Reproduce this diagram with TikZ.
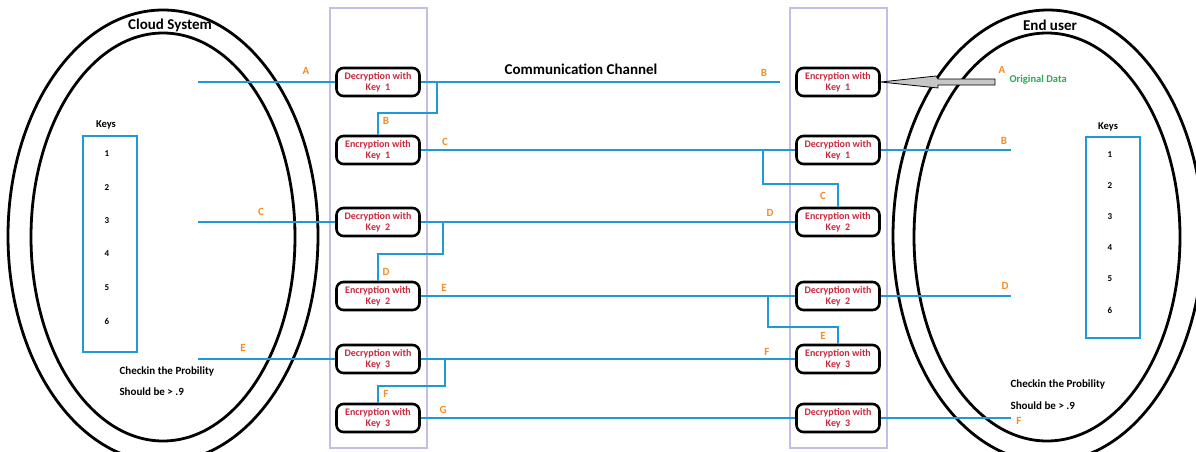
\documentclass[tikz,border=0pt]{standalone}
\usepackage{fontspec}
\setmainfont{Carlito}
\definecolor{boxred}{RGB}{200,40,60}
\definecolor{linkblue}{RGB}{30,155,215}
\definecolor{tagorange}{RGB}{245,140,40}
\definecolor{datagreen}{RGB}{40,170,80}
\definecolor{lanegray}{RGB}{195,190,228}
\begin{document}
\begin{tikzpicture}[x=1pt,y=-1pt,
  keybox/.style={draw=black, line width=2.6pt, rounded corners=7pt, minimum width=83pt,
    minimum height=28pt, inner sep=1pt, align=center, text=boxred,
    font=\bfseries\fontsize{10}{11}\selectfont},
  link/.style={draw=linkblue, line width=1.8pt},
  tag/.style={text=tagorange, font=\bfseries\fontsize{11}{13}\selectfont},
  note/.style={anchor=west, font=\bfseries\fontsize{11}{13}\selectfont},
  num/.style={font=\bfseries\fontsize{9}{11}\selectfont}]
\useasboundingbox (0,0) rectangle (1196,452);
\clip (0,0) rectangle (1196,452);

\draw [line width=2.8pt](163,236) ellipse [x radius=155pt, y radius=226pt]; % cloud system
\draw [line width=2.8pt](163,237) ellipse [x radius=132pt, y radius=204pt];
\node [font=\bfseries\fontsize{15}{17}\selectfont] (cloud) at (170,25) {Cloud System};

\draw [line width=2.8pt](1048,236) ellipse [x radius=155pt, y radius=226pt]; % end user
\draw [line width=2.8pt](1047,237) ellipse [x radius=133pt, y radius=204pt];
\node [font=\bfseries\fontsize{15}{17}\selectfont] (user) at (1050,25) {End user};

\draw [lanegray, line width=2.5pt](330,8) rectangle (427,448); % cloud lane
\draw [lanegray, line width=2.5pt](790,8) rectangle (887,448); % user lane
\node [font=\bfseries\fontsize{15}{17}\selectfont] (channel) at (581,69) {Communication Channel};

% keys
\node [note, anchor=center, font=\bfseries\fontsize{10.5}{12}\selectfont] (ckeys) at (106,125) {Keys};
\draw [link](83,136) rectangle (137,352);
\foreach \k [count=\i] in {154,188,221,254,288,321}
  \node [num] (ck\i) at (107,\k) {\i};
\node [note, anchor=center, font=\bfseries\fontsize{10.5}{12}\selectfont] (ukeys) at (1108,127) {Keys};
\draw [link](1086,137) rectangle (1140,338);
\foreach \k [count=\i] in {155,186,217,248,279,310}
  \node [num] (uk\i) at (1110,\k) {\i};

\node [note] (cprob) at (116,372) {Checkin the Probility};
\node [note] (cgt) at (116,392) {Should be > .9};
\node [note] (uprob) at (1007,385) {Checkin the Probility};
\node [note] (ugt) at (1007,406) {Should be > .9};

% cloud side boxes
\node [keybox] (cd1) at (378,82) {Decryption with\\Key\ \ 1};
\node [keybox] (ce1) at (378,150) {Encryption with\\Key\ \ 1};
\node [keybox] (cd2) at (378,222) {Decryption with\\Key\ \ 2};
\node [keybox] (ce2) at (378,296) {Encryption with\\Key\ \ 2};
\node [keybox] (cd3) at (378,359) {Decryption with\\Key\ \ 3};
\node [keybox] (ce3) at (378,418) {Encryption with\\Key\ \ 3};

% user side boxes
\node [keybox] (ue1) at (838,82) {Encryption with\\Key\ \ 1};
\node [keybox] (ud1) at (838,150) {Decryption with\\Key\ \ 1};
\node [keybox] (ue2) at (838,222) {Encryption with\\Key\ \ 2};
\node [keybox] (ud2) at (838,296) {Decryption with\\Key\ \ 2};
\node [keybox] (ue3) at (838,359) {Encryption with\\Key\ \ 3};
\node [keybox] (ud3) at (838,418) {Decryption with\\Key\ \ 3};

% free ends
\coordinate (ain) at (198,82);
\coordinate (cin) at (198,222);
\coordinate (ein) at (198,359);
\coordinate (bmid) at (780,82);
\coordinate (bout) at (1011,150);
\coordinate (dout) at (1011,296);
\coordinate (fout) at (1011,418);

\draw [link](ain)--(cd1);
\draw [link](cin)--(cd2);
\draw [link](ein)--(cd3);
\draw [link](cd1)--(bmid);
\draw [link](ce1)--(ud1);
\draw [link](cd2)--(ue2);
\draw [link](ce2)--(ud2);
\draw [link](cd3)--(ue3);
\draw [link](ce3)--(ud3);
\draw [link](ud1)--(bout);
\draw [link](ud2)--(dout);
\draw [link](ud3)--(fout);

\draw [link](cd1.east) -| (437,113) -| (ce1.north);
\draw [link](cd2.east) -| (443,254) -| (ce2.north);
\draw [link](cd3.east) -| (445,386) -| (ce3.north);
\draw [link](763,150) -- (763,184) -| (ue2.north);
\draw [link](768,296) -- (768,327) -| (ue3.north);

% original data arrow
\draw [fill=gray!45, line width=0.8pt](ue1.east) -- (936,76) -- (938,79) -- (995,79)
  -- (995,85) -- (938,85) -- (938,88) -- cycle;
\node [note, text=datagreen, font=\bfseries\fontsize{10.5}{12}\selectfont] (orig) at (1006,80) {Original Data};

% letters
\node [tag] at (306,71) {A};
\node [tag] at (261,212) {C};
\node [tag] at (243,348) {E};
\node [tag] at (386,121) {B};
\node [tag] at (386,272) {D};
\node [tag] at (386,394) {F};
\node [tag] at (764,73) {B};
\node [tag] at (445,142) {C};
\node [tag] at (823,196) {C};
\node [tag] at (770,213) {D};
\node [tag] at (444,288) {E};
\node [tag] at (823,336) {E};
\node [tag] at (767,352) {F};
\node [tag] at (443,410) {G};
\node [tag] at (1004,141) {B};
\node [tag] at (1005,286) {D};
\node [tag] at (1019,421) {F};
\node [tag] at (1002,70) {A};

\end{tikzpicture}
\end{document}
